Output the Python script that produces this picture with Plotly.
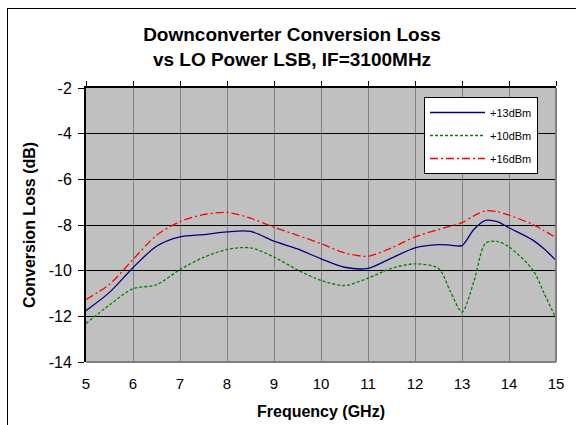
import plotly.graph_objects as go

freq = [5, 5.5, 6, 6.5, 7, 7.5, 8, 8.5, 9, 9.5, 10, 10.5, 11, 11.5, 12, 12.5,
        12.75, 13, 13.25, 13.5, 13.75, 14, 14.5, 14.75, 15]
loss_13dbm = [-11.75, -10.95, -9.87, -8.93, -8.52, -8.42, -8.30, -8.28, -8.71, -9.05,
              -9.48, -9.85, -9.90, -9.45, -9.00, -8.86, -8.88, -8.90, -8.20, -7.80,
              -7.85, -8.12, -8.65, -9.05, -9.55]
loss_10dbm = [-12.31, -11.50, -10.79, -10.62, -9.95, -9.42, -9.07, -9.00, -9.40, -9.97,
              -10.43, -10.65, -10.33, -9.90, -9.70, -9.90, -10.90, -11.81, -10.50, -8.80,
              -8.72, -8.96, -9.95, -11.00, -12.10]
loss_16dbm = [-11.26, -10.60, -9.51, -8.45, -7.85, -7.55, -7.45, -7.70, -8.10, -8.45,
              -8.82, -9.22, -9.37, -9.00, -8.52, -8.20, -8.05, -7.90, -7.60, -7.38,
              -7.42, -7.57, -7.97, -8.25, -8.56]

x_ticks = [5, 6, 7, 8, 9, 10, 11, 12, 13, 14, 15]
y_ticks = [-2, -4, -6, -8, -10, -12, -14]
y_tick_text = ["-2", "-4", "-6", "-8", "-10", "-12", "-14"]

FONT = "Arial, Liberation Sans, sans-serif"

fig = go.Figure()
fig.add_trace(go.Scatter(x=freq, y=loss_13dbm, name="+13dBm", mode="lines",
                         line=dict(color="#000080", width=1.3, shape="spline", smoothing=0.8),
                         legendgroup="a"))
fig.add_trace(go.Scatter(x=freq, y=loss_10dbm, name="+10dBm", mode="lines",
                         line=dict(color="#008000", width=1.3, dash="3px,2px", shape="spline", smoothing=0.8),
                         legendgroup="b"))
fig.add_trace(go.Scatter(x=freq, y=loss_16dbm, name="+16dBm", mode="lines",
                         line=dict(color="#FF0000", width=1.3, dash="8px,3px,2px,3px", shape="spline", smoothing=0.8),
                         legendgroup="c"))
# invisible trace to anchor top axis
fig.add_trace(go.Scatter(x=[5, 15], y=[-14, -14], xaxis="x2", mode="lines",
                         line=dict(color="rgba(0,0,0,0)"), showlegend=False, hoverinfo="skip"))

L, T = 86, 88
PW, PH = 470, 274

fig.update_layout(
    width=576, height=425,
    margin=dict(l=L, r=576 - L - PW, t=T, b=425 - T - PH, autoexpand=False),
    paper_bgcolor="white",
    plot_bgcolor="#C0C0C0",
    font=dict(family=FONT, size=15, color="black"),
    title=dict(text="<b>Downconverter Conversion Loss<br>vs LO Power LSB, IF=3100MHz</b>",
               x=292/576, xanchor="center", xref="container",
               y=1 - 41/425, yanchor="top", yref="container",
               font=dict(family=FONT, size=19, color="black"), automargin=False),
    xaxis=dict(range=[5, 15], tickvals=x_ticks, ticks="outside", ticklen=8,
               tickcolor="rgba(0,0,0,0)", showline=False, automargin=False,
               showgrid=True, gridcolor="#808080", gridwidth=1, zeroline=False,
               tickfont=dict(size=15),
               title=dict(text="<b>Frequency (GHz)</b>", font=dict(size=16), standoff=14)),
    xaxis2=dict(range=[5, 15], overlaying="x", side="top", anchor="y", automargin=False,
                tickvals=x_ticks, showticklabels=False, ticks="outside", ticklen=5,
                tickcolor="black", showline=True, linecolor="black", linewidth=1.5,
                showgrid=False, zeroline=False),
    yaxis=dict(range=[-14, -2], tickvals=y_ticks, ticktext=y_tick_text, automargin=False,
               ticks="outside", ticklen=6, tickcolor="black", ticklabelstandoff=3,
               showline=True, linecolor="black", linewidth=2,
               showgrid=True, gridcolor="black", gridwidth=1, zeroline=False,
               tickfont=dict(size=16),
               title=dict(text="<b>Conversion Loss (dB)</b>", font=dict(size=16), standoff=9)),
    legend=dict(x=(424-L)/PW, y=1 - (97-T)/PH, xanchor="left", yanchor="top",
                bgcolor="white", bordercolor="black", borderwidth=1,
                font=dict(family=FONT, size=11), tracegroupgap=4,
                entrywidth=72, itemwidth=55),
    shapes=[
        dict(type="line", xref="paper", yref="paper", x0=0, x1=1, y0=0, y1=0,
             line=dict(color="#808080", width=2), layer="above"),
        dict(type="line", xref="paper", yref="paper", x0=1, x1=1, y0=0, y1=1,
             line=dict(color="#808080", width=2), layer="above"),
    ],
    annotations=[
        dict(text=" ", showarrow=False, xref="paper", yref="paper",
             x=(7-L)/PW, y=1 + (T-8)/PH, xanchor="left", yanchor="top",
             width=640, height=480, bordercolor="black", borderwidth=1, borderpad=0,
             bgcolor="rgba(0,0,0,0)"),
    ],
)

fig.write_html("out.html", post_script="document.body.style.margin='0';",
               config={"displayModeBar": False})
